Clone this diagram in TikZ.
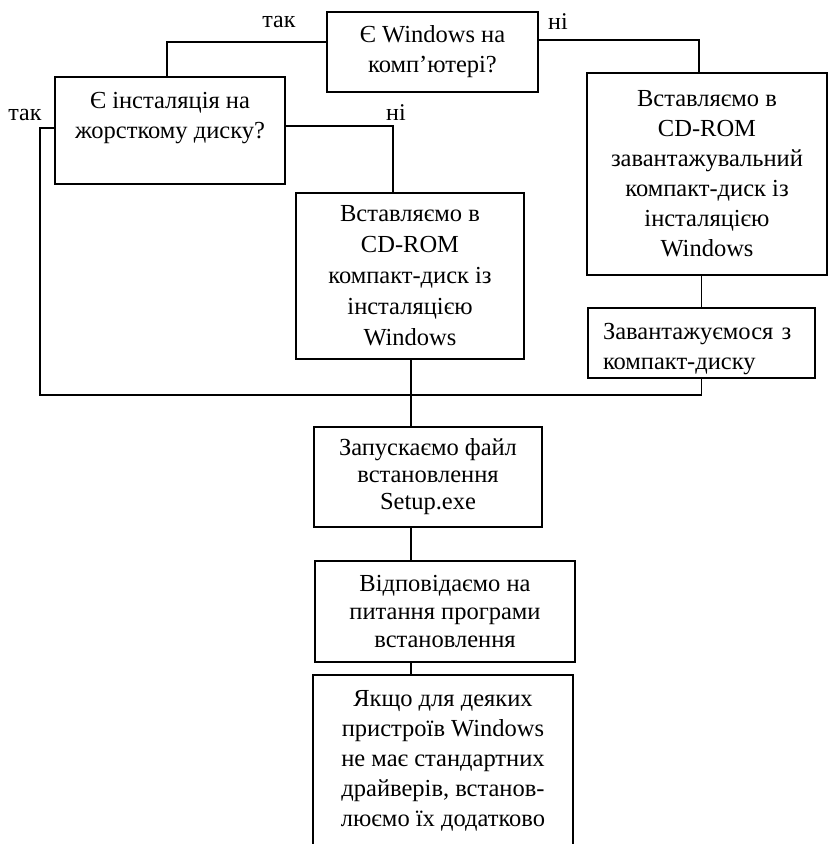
\documentclass[tikz,border=0pt]{standalone}
\usepackage{fontspec}
\setmainfont{Liberation Serif}
\begin{document}
\begin{tikzpicture}[x=1pt,y=-1pt,
    blok/.style={draw, line width=1.5pt, align=center, inner sep=2pt, font=\fontsize{24.5}{30}\selectfont},
    mitka/.style={font=\fontsize{24}{30}\selectfont}]
    \useasboundingbox (0,0) rectangle (830,844);
    % Питання
    \node[blok, minimum width=211pt, minimum height=80pt] (windows) at (432.5,52) {Є Windows на\\комп’ютері?};
    \node[blok, minimum width=230pt, minimum height=107pt] (hdd) at (170,130.5) {Є інсталяція на\\жорсткому диску?\\\mbox{}};
    % Дії
    \node[blok, minimum width=240pt, minimum height=202pt] (cdboot) at (707,174) {Вставляємо в\\CD-ROM\\завантажувальний\\компакт-диск із\\інсталяцією\\Windows};
    \node[blok, minimum width=228pt, minimum height=166pt, font=\fontsize{24.5}{31}\selectfont] (cdinst) at (410,276) {Вставляємо в\\CD-ROM\\компакт-диск із\\інсталяцією\\Windows};
    \node[blok, minimum width=227pt, minimum height=70pt, text width=197pt, align=left, text height=29pt] (bootcd) at (701.5,343) {Завантажуємося з\\компакт-диску};
    \node[blok, minimum width=228pt, minimum height=100pt, font=\fontsize{24.5}{27}\selectfont] (setup) at (428,477) {Запускаємо файл\\встановлення\\Setup.exe};
    \node[blok, minimum width=260pt, minimum height=101pt, font=\fontsize{24.5}{28}\selectfont] (answer) at (445,611.5) {Відповідаємо на\\питання програми\\встановлення};
    \node[blok, minimum width=260pt, minimum height=172pt] (drivers) at (443,761) {Якщо для деяких\\пристроїв Windows\\не має стандартних\\драйверів, встанов-\\люємо їх додатково};
    % Точки ліній
    \coordinate (trunk) at (411,395);
    \coordinate (loop) at (40,395);
    % Лінії
    \begin{scope}[line width=1.5pt]
    \draw ([yshift=10pt]windows.west) -| ([xshift=-3pt]hdd.north);
    \draw ([yshift=12pt]windows.east) -| ([xshift=-8pt]cdboot.north);
    \draw ([yshift=4.5pt]hdd.east) -| ([xshift=-17pt]cdinst.north);
    \draw ([yshift=2.5pt]hdd.west) -| (loop) -| (bootcd.south);
    \draw (cdboot.south -| bootcd.north) -- (bootcd.north);
    \draw (cdinst.south -| trunk) -- (setup.north -| trunk);
    \draw (setup.south -| trunk) -- (answer.north -| trunk);
    \draw (answer.south -| trunk) -- (drivers.north -| trunk);
    \end{scope}
    % Так / ні
    \node[mitka] (tak1) at (279,22) {так};
    \node[mitka] (ni1) at (558,22) {ні};
    \node[mitka] (ni2) at (396,113) {ні};
    \node[mitka] (tak2) at (25,115) {так};
\end{tikzpicture}
\end{document}
